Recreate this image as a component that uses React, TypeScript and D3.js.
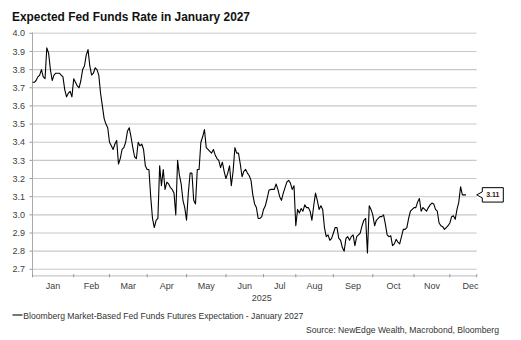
import React from "react";
import * as d3 from "d3";

const title = "Expected Fed Funds Rate in January 2027";
const seriesName = "Bloomberg Market-Based Fed Funds Futures Expectation - January 2027";
const sourceText = "Source: NewEdge Wealth, Macrobond, Bloomberg";
const yearLabel = "2025";
const monthLabels = ["Jan", "Feb", "Mar", "Apr", "May", "Jun", "Jul", "Aug", "Sep", "Oct", "Nov", "Dec"];
// observation slots per month on the axis (business-day based)
const monthSlots = [23, 20, 21, 22, 22, 21, 18, 21, 22, 23, 20, 23];
const axisEnd = 248;
const yTicks = [2.7, 2.8, 2.9, 3.0, 3.1, 3.2, 3.3, 3.4, 3.5, 3.6, 3.7, 3.8, 3.9, 4.0];
const lastLabel = "3.11";

const rate = [
  3.73, 3.73, 3.74, 3.76, 3.77, 3.80, 3.76, 3.75, 3.92, 3.89,
  3.80, 3.74, 3.77, 3.78, 3.78, 3.78, 3.77, 3.76, 3.69, 3.65,
  3.67, 3.68, 3.65, 3.75, 3.73, 3.71, 3.70, 3.74, 3.80, 3.82,
  3.88, 3.91, 3.82, 3.77, 3.78, 3.81, 3.80, 3.77, 3.67, 3.60,
  3.53, 3.50, 3.48, 3.40, 3.38, 3.36, 3.39, 3.41, 3.28, 3.31,
  3.36, 3.37, 3.40, 3.46, 3.48, 3.43, 3.37, 3.32, 3.31, 3.40,
  3.38, 3.39, 3.36, 3.27, 3.25, 3.25, 3.10, 2.98, 2.93, 2.97,
  2.98, 3.27, 3.16, 3.25, 3.14, 3.18, 3.17, 3.15, 3.14, 3.12,
  3.00, 3.30, 3.22, 3.17, 3.08, 3.04, 2.97, 3.12, 3.23, 3.23,
  3.08, 3.06, 3.25, 3.25, 3.40, 3.43, 3.47, 3.37, 3.36, 3.35,
  3.34, 3.36, 3.33, 3.31, 3.30, 3.26, 3.29, 3.24, 3.20, 3.23,
  3.27, 3.16, 3.24, 3.37, 3.34, 3.34, 3.28, 3.21, 3.24, 3.25,
  3.23, 3.215, 3.19, 3.11, 3.06, 3.04, 2.98, 2.98, 2.99, 3.03,
  3.05, 3.09, 3.135, 3.14, 3.14, 3.14, 3.17, 3.14, 3.10, 3.08,
  3.12, 3.15, 3.18, 3.19, 3.175, 3.14, 3.16, 2.94, 3.03, 3.01,
  3.035, 3.02, 3.055, 3.04, 3.04, 3.02, 2.97, 3.05, 3.12, 3.08,
  3.03, 3.05, 3.03, 2.93, 2.88, 2.89, 2.86, 2.87, 2.90, 2.93,
  2.93, 2.87, 2.86, 2.82, 2.80, 2.87, 2.88, 2.86, 2.88, 2.89,
  2.83, 2.88, 2.89, 2.90, 2.94, 2.97, 2.98, 2.79, 3.05, 3.03,
  3.00, 2.94, 2.97, 2.98, 2.99, 2.99, 3.00, 2.95, 2.89, 2.88,
  2.885, 2.83, 2.84, 2.865, 2.85, 2.84, 2.88, 2.92, 2.92, 2.93,
  2.98, 3.02, 3.03, 3.04, 3.04, 3.07, 3.09, 3.02, 3.04, 3.03,
  3.02, 3.04, 3.055, 3.065, 3.06, 3.03, 3.02, 2.955, 2.94, 2.935,
  2.92, 2.93, 2.94, 2.955, 2.99, 2.995, 2.975, 3.03, 3.07, 3.155,
  3.11, 3.11, 3.11,
];

const W = 521;
const H = 340;
const font = "'Liberation Sans', Arial, sans-serif";

export default function App() {
  const left = 32.5;
  const right = 476.7;
  const top = 33.3;
  const bottom = 269.3;
  const axisY = 275.8;

  const x = d3.scaleLinear().domain([0, axisEnd]).range([left, right]);
  const y = d3.scaleLinear().domain([2.7, 4.0]).range([bottom, top]);

  const starts: number[] = [];
  let acc = 0;
  for (const s of monthSlots) {
    starts.push(acc);
    acc += s;
  }

  const line = d3
    .line<number>()
    .x((_, i) => x(i))
    .y((d) => y(d));

  const lastI = rate.length - 1;
  const lastV = rate[lastI];
  const ly = y(lastV);
  const tipX = right;
  const bx0 = right + 5.6;
  const bx1 = bx0 + 21;
  const bh = 14.4;
  const calloutPath = `M${bx0},${ly - 3} L${bx0},${ly - bh / 2} L${bx1},${ly - bh / 2} L${bx1},${ly + bh / 2} L${bx0},${ly + bh / 2} L${bx0},${ly + 3} L${tipX},${ly} Z`;

  return (
    <svg
      width={W}
      height={H}
      style={{ position: "absolute", left: 0, top: 0, background: "#fff" }}
      fontFamily={font}
    >
      <rect width={W} height={H} fill="#fff" />
      <text x={12} y={20.5} fontSize={12} fontWeight="bold" fill="#111" textLength={238} lengthAdjust="spacingAndGlyphs">
        {title}
      </text>

      {yTicks.map((t) => (
        <g key={t}>
          <line x1={left} x2={right} y1={y(t)} y2={y(t)} stroke={t === 4.0 ? "#dcdcdc" : "#c8c8c8"} strokeWidth={t === 4.0 ? 1.6 : 1.1} />
          <line x1={left - 3} x2={left} y1={y(t)} y2={y(t)} stroke="#999" strokeWidth={1} />
          <text x={25} y={y(t)} dy="0.35em" fontSize={9} fill="#404040" textAnchor="end">
            {t.toFixed(1)}
          </text>
        </g>
      ))}

      <line x1={left} x2={left} y1={top - 1} y2={axisY} stroke="#aaa" strokeWidth={1} />
      <line x1={left} x2={right} y1={axisY} y2={axisY} stroke="#c8c8c8" strokeWidth={1.2} />
      {starts.map((s, i) => (
        <line key={"t" + i} x1={x(s)} x2={x(s)} y1={axisY - 1.8} y2={axisY + 1.5} stroke="#999" strokeWidth={1} />
      ))}
      <line x1={right} x2={right} y1={axisY - 1.8} y2={axisY + 1.5} stroke="#999" strokeWidth={1} />

      {monthLabels.map((m, i) => (
        <text key={m} x={x(starts[i] + monthSlots[i] / 2)} y={289} fontSize={9} fill="#404040" textAnchor="middle">
          {m}
        </text>
      ))}
      <text x={x(acc / 2)} y={300.5} fontSize={9} fill="#404040" textAnchor="middle">
        {yearLabel}
      </text>

      <path d={line(rate) || ""} fill="none" stroke="#000" strokeWidth={1.1} strokeLinejoin="round" />

      <path d={calloutPath} fill="#fff" stroke="#000" strokeWidth={1} />
      <text x={(bx0 + bx1) / 2} y={ly} dy="0.35em" fontSize={7} fontWeight="bold" fill="#3a1010" textAnchor="middle">
        {lastLabel}
      </text>

      <line x1={12.5} x2={22.5} y1={315} y2={315} stroke="#777" strokeWidth={2} />
      <text x={23.3} y={318.5} fontSize={9} fill="#333" textLength={280} lengthAdjust="spacingAndGlyphs">
        {seriesName}
      </text>
      <text x={499} y={332.7} fontSize={9} fill="#333" textAnchor="end" textLength={193} lengthAdjust="spacingAndGlyphs">
        {sourceText}
      </text>
    </svg>
  );
}
